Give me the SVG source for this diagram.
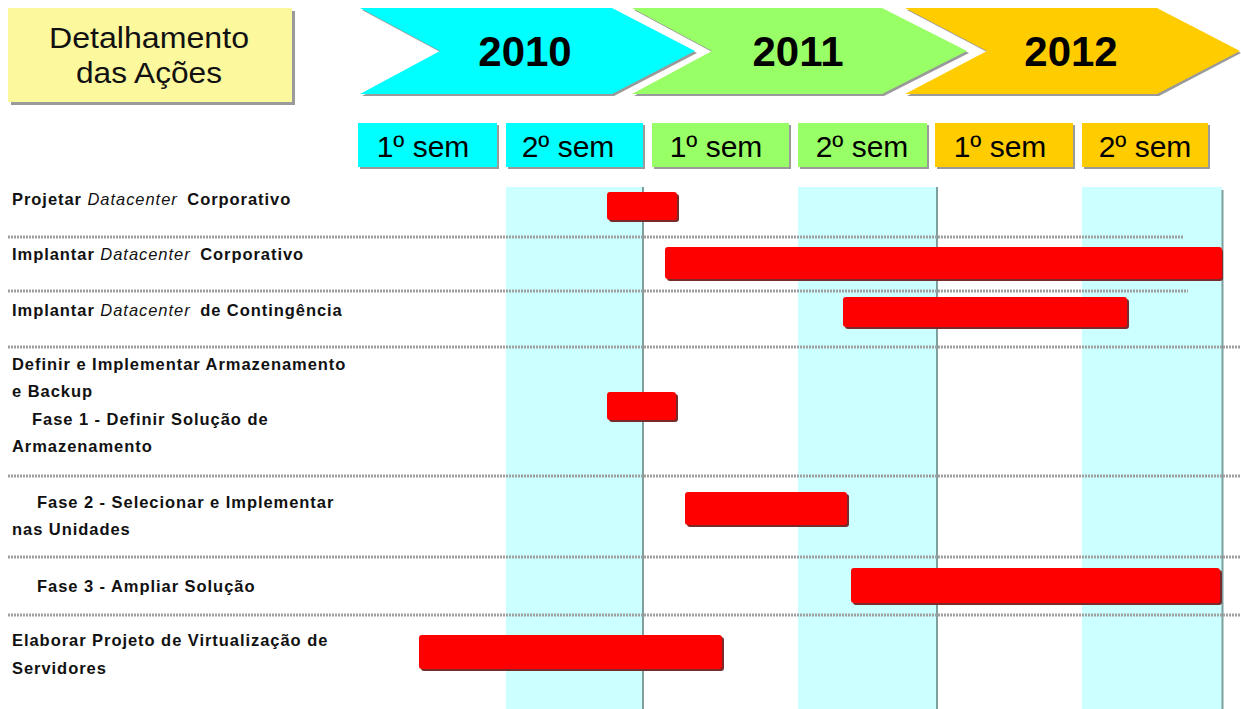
<svg xmlns="http://www.w3.org/2000/svg" width="1241" height="709" viewBox="0 0 1241 709">
<defs>
<style>
.lbl{font-family:"Liberation Sans",Arial,sans-serif;font-weight:bold;font-size:16.5px;letter-spacing:0.95px;fill:#111}
.it{font-style:italic;font-weight:normal}
.yr{font-family:"Liberation Sans",Arial,sans-serif;font-weight:bold;font-size:42px;fill:#000;text-anchor:middle}
.sem{font-family:"Liberation Sans",Arial,sans-serif;font-size:30px;fill:#000;text-anchor:middle}
.ttl{font-family:"Liberation Sans",Arial,sans-serif;font-size:29px;fill:#111;text-anchor:middle}
.sep{stroke:#a0a0a0;stroke-width:3;stroke-dasharray:2 1}
.band{fill:#ccffff}
.vline{stroke:#5e7f7f;stroke-width:1.5}
.bar{fill:#ff0000}
.barsh{fill:#7a2a2a}
.sh{fill:#9a9a9a}
.c0{fill:#00ffff}.c1{fill:#99ff66}.c2{fill:#ffcc00}
</style>
</defs>
<rect width="1241" height="709" fill="#ffffff"/>

<g id="bands">
<rect class="band" x="506" y="187" width="137" height="522"/>
<rect class="band" x="798" y="187" width="139" height="522"/>
<rect class="band" x="1082" y="187" width="140" height="522"/>
<line x1="1222.5" y1="190" x2="1222.5" y2="709" stroke="#7f9f9f" stroke-width="2"/>
<line class="vline" x1="643" y1="187" x2="643" y2="709"/>
<line class="vline" x1="937" y1="187" x2="937" y2="709"/>
</g>

<g id="title">
<rect class="sh" x="11" y="11" width="284" height="94"/>
<rect x="8" y="8" width="284" height="94" fill="#fbf89e"/>
<text class="ttl" x="149" y="48" textLength="200" lengthAdjust="spacingAndGlyphs">Detalhamento</text>
<text class="ttl" x="149" y="83" textLength="146" lengthAdjust="spacingAndGlyphs">das Ações</text>
</g>

<g id="year-2010">
<polygon class="sh" points="362,10 614,10 697,53 614,96 362,96 442,53"/>
<polygon class="c0" points="360,8 612,8 695,51 612,94 360,94 440,51"/>
<text class="yr" x="525" y="66">2010</text>
</g>
<g id="year-2011">
<polygon class="sh" points="634,10 884,10 969,53 884,96 634,96 714,53"/>
<polygon class="c1" points="632,8 882,8 967,51 882,94 632,94 712,51"/>
<text class="yr" x="798" y="66">2011</text>
</g>
<g id="year-2012">
<polygon class="sh" points="907,10 1159,10 1241,53 1159,96 907,96 989,53"/>
<polygon class="c2" points="905,8 1157,8 1240,51 1157,94 905,94 987,51"/>
<text class="yr" x="1071" y="66">2012</text>
</g>

<g id="sem-2010-1"><rect class="sh" x="360" y="125" width="139" height="44"/><rect class="c0" x="358" y="123" width="139" height="44"/><text class="sem" x="423" y="157">1º sem</text></g>
<g id="sem-2010-2"><rect class="sh" x="508" y="125" width="137" height="44"/><rect class="c0" x="506" y="123" width="137" height="44"/><text class="sem" x="568" y="157">2º sem</text></g>
<g id="sem-2011-1"><rect class="sh" x="654" y="125" width="137" height="44"/><rect class="c1" x="652" y="123" width="137" height="44"/><text class="sem" x="716" y="157">1º sem</text></g>
<g id="sem-2011-2"><rect class="sh" x="800" y="125" width="129" height="44"/><rect class="c1" x="798" y="123" width="129" height="44"/><text class="sem" x="862" y="157">2º sem</text></g>
<g id="sem-2012-1"><rect class="sh" x="937" y="125" width="138" height="44"/><rect class="c2" x="935" y="123" width="138" height="44"/><text class="sem" x="1000" y="157">1º sem</text></g>
<g id="sem-2012-2"><rect class="sh" x="1084" y="125" width="126" height="44"/><rect class="c2" x="1082" y="123" width="126" height="44"/><text class="sem" x="1145" y="157">2º sem</text></g>

<g id="separators">
<line class="sep" x1="8" y1="237" x2="1184" y2="237"/>
<line class="sep" x1="8" y1="291" x2="1188" y2="291"/>
<line class="sep" x1="8" y1="347" x2="1241" y2="347"/>
<line class="sep" x1="8" y1="476" x2="1241" y2="476"/>
<line class="sep" x1="8" y1="557" x2="1241" y2="557"/>
<line class="sep" x1="8" y1="615" x2="1241" y2="615"/>
</g>

<g id="labels">
<text class="lbl" x="12" y="205">Projetar <tspan class="it">Datacenter</tspan> <tspan dx="4">Corporativo</tspan></text>
<text class="lbl" x="12" y="260">Implantar <tspan class="it">Datacenter</tspan> <tspan dx="4">Corporativo</tspan></text>
<text class="lbl" x="12" y="316">Implantar <tspan class="it">Datacenter</tspan> <tspan dx="4">de Contingência</tspan></text>
<text class="lbl" x="12" y="370">Definir e Implementar Armazenamento</text>
<text class="lbl" x="12" y="397">e Backup</text>
<text class="lbl" x="32" y="425">Fase 1 - Definir Solução de</text>
<text class="lbl" x="12" y="452">Armazenamento</text>
<text class="lbl" x="37" y="508">Fase 2 - Selecionar e Implementar</text>
<text class="lbl" x="12" y="535">nas Unidades</text>
<text class="lbl" x="37" y="592">Fase 3 - Ampliar Solução</text>
<text class="lbl" x="12" y="646">Elaborar Projeto de Virtualização de</text>
<text class="lbl" x="12" y="674">Servidores</text>
</g>

<g id="bars">
<rect class="barsh" x="609" y="194" width="70" height="28" rx="3"/><rect class="bar" x="607" y="192" width="70" height="28" rx="3"/>
<rect class="barsh" x="667" y="249" width="556" height="32" rx="3"/><rect class="bar" x="665" y="247" width="557" height="32" rx="3"/>
<rect class="barsh" x="845" y="299" width="284" height="30" rx="3"/><rect class="bar" x="843" y="297" width="284" height="30" rx="3"/>
<rect class="barsh" x="609" y="394" width="69" height="28" rx="3"/><rect class="bar" x="607" y="392" width="69" height="28" rx="3"/>
<rect class="barsh" x="687" y="494" width="162" height="33" rx="3"/><rect class="bar" x="685" y="492" width="162" height="33" rx="3"/>
<rect class="barsh" x="853" y="570" width="369" height="35" rx="3"/><rect class="bar" x="851" y="568" width="369" height="35" rx="3"/>
<rect class="barsh" x="421" y="637" width="303" height="34" rx="3"/><rect class="bar" x="419" y="635" width="303" height="34" rx="3"/>
</g>
</svg>
